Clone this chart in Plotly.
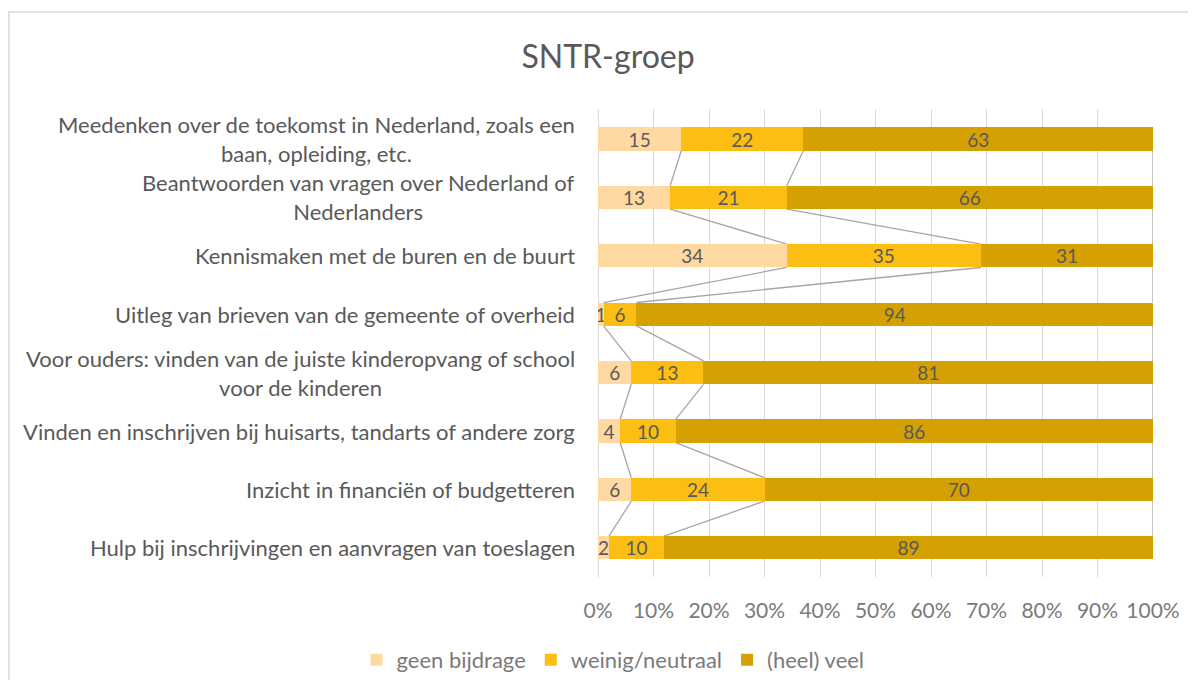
import plotly.graph_objects as go

categories = [
    "Meedenken over de toekomst in Nederland, zoals een<br>baan, opleiding, etc.",
    "Beantwoorden van vragen over Nederland of<br>Nederlanders",
    "Kennismaken met de buren en de buurt",
    "Uitleg van brieven van de gemeente of overheid",
    "Voor ouders: vinden van de juiste kinderopvang of school<br>voor de kinderen",
    "Vinden en inschrijven bij huisarts, tandarts of andere zorg",
    "Inzicht in financiën of budgetteren",
    "Hulp bij inschrijvingen en aanvragen van toeslagen",
]
series_names = ["geen bijdrage", "weinig/neutraal", "(heel) veel"]
geen = [15, 13, 34, 1, 6, 4, 6, 2]
weinig = [22, 21, 35, 6, 13, 10, 24, 10]
veel = [63, 66, 31, 94, 81, 86, 70, 89]
colors = ["#FFD9A1", "#FCBE12", "#D4A002"]
x_ticks = list(range(0, 101, 10))
x_ticktext = [f"{v}%" for v in x_ticks]

FONT = "Lato"
GRAY = "#595959"
LGRAY = "#7a7a7a"
OFF = 8  # default page body margin
W, H = 1196 - 2 * OFF, 688 - 2 * OFF
L, T = 598 - OFF, 109 - OFF
R = W - (1153 - OFF)
B = H - (577 - OFF)
PW, PH = W - L - R, H - T - B

fig = go.Figure()
for name, vals, col in zip(series_names, [geen, weinig, veel], colors):
    fig.add_trace(go.Bar(
        y=categories, x=vals, name=name, orientation="h",
        marker=dict(color=col, line=dict(width=0)),
        text=vals, texttemplate="%{text}", textposition="inside",
        insidetextanchor="middle", constraintext="none", textangle=0,
        textfont=dict(family=FONT, size=19, color=GRAY),
        width=0.4,
    ))

# series lines (connect segment boundaries between adjacent bars)
series = [geen, weinig, veel]
totals = [sum(s[i] for s in series) for i in range(len(categories))]
cums = []
for k in range(len(series)):
    cums.append([100.0 * sum(series[j][i] for j in range(k + 1)) / totals[i]
                 for i in range(len(categories))])
half = 0.2
shapes = []
for k in range(len(series)):
    for i in range(len(categories) - 1):
        shapes.append(dict(type="line", xref="x", yref="y",
                           x0=cums[k][i], y0=i + half,
                           x1=cums[k][i + 1], y1=i + 1 - half,
                           line=dict(color="#A6A6A6", width=1.3),
                           layer="between"))
# chart border
shapes.append(dict(type="rect", xref="paper", yref="paper",
                   x0=(9 - OFF - L) / PW, x1=(W + 20 - L) / PW,
                   y0=(T + PH - (H + 20)) / PH, y1=(T + PH - (12 - OFF)) / PH,
                   line=dict(color="#D9D9D9", width=1.5), fillcolor="rgba(0,0,0,0)",
                   layer="below"))

annotations = []
for c in categories:
    annotations.append(dict(x=0, y=c, xref="paper", yref="y", text=c,
                            showarrow=False, xanchor="right", xshift=-21,
                            align="center",
                            font=dict(family=FONT, size=22, color=GRAY)))

fig.update_layout(
    barmode="stack", barnorm="percent",
    width=W, height=H,
    margin=dict(l=L, r=R, t=T, b=B, autoexpand=False),
    paper_bgcolor="white", plot_bgcolor="white",
    title=dict(text="SNTR-groep", x=(608 - OFF) / W, xref="container", xanchor="center",
               y=1 - (57 - OFF) / H, yref="container", yanchor="middle",
               font=dict(family=FONT, size=32, color=GRAY)),
    xaxis=dict(range=[0, 100], tickvals=x_ticks, ticktext=x_ticktext,
               showgrid=True, gridcolor="#D9D9D9", gridwidth=1,
               zeroline=True, zerolinecolor="#D9D9D9", zerolinewidth=1,
               showline=False, ticks="", ticklabelstandoff=19,
               tickfont=dict(family=FONT, size=21, color=LGRAY)),
    yaxis=dict(categoryorder="array", categoryarray=categories,
               autorange="reversed", showticklabels=False, showgrid=False,
               zeroline=False, showline=False, ticks=""),
    uniformtext=dict(minsize=19, mode="show"),
    legend=dict(orientation="h", x=(613 - OFF) / W, xanchor="center", xref="container",
                y=1 - (660 - OFF) / H, yanchor="middle", yref="container",
                font=dict(family=FONT, size=22, color=LGRAY),
                traceorder="normal", itemclick=False),
    shapes=shapes, annotations=annotations,
    showlegend=True,
)

fig.write_html("out.html")
